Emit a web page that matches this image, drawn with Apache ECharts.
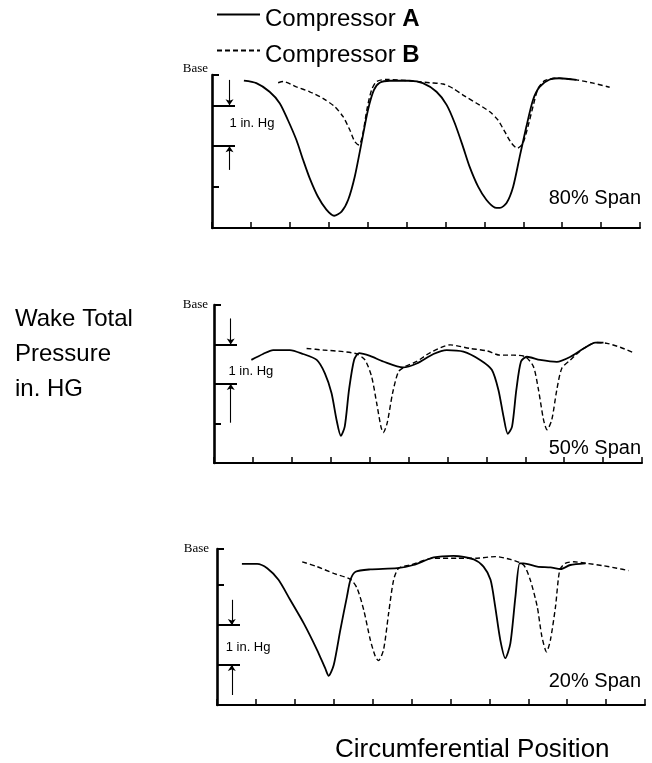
<!DOCTYPE html>
<html>
<head>
<meta charset="utf-8">
<script src="https://cdn.jsdelivr.net/npm/echarts@6/dist/echarts.min.js"></script>
<style>
html, body { margin: 0; padding: 0; background: #fff; }
#chart { width: 652px; height: 763px; }
</style>
</head>
<body>
<div id="chart"></div>
<script>
// Wake total pressure traces, circumferential position (blade pitches) vs. pressure (in. Hg above the axis floor)

// 80% span
const a80x = [0.82,1.14,1.48,1.74,1.95,2.17,2.34,2.51,2.72,2.94,3.14,3.33,3.50,3.67,3.84,4.01,4.16,4.31,4.57,5.08,5.42,5.77,6.03,6.24,6.45,6.62,6.84,7.05,7.27,7.40,7.57,7.74,7.91,8.08,8.25,8.42,8.68,8.94,9.37];
const a80y = [3.60,3.54,3.33,3.05,2.64,2.15,1.67,1.22,0.77,0.45,0.30,0.40,0.69,1.26,2.07,2.89,3.37,3.55,3.60,3.60,3.54,3.33,3.01,2.56,1.99,1.50,1.01,0.69,0.50,0.49,0.61,1.01,1.75,2.48,3.13,3.45,3.63,3.66,3.62];
const b80x = [1.70,1.83,2.17,2.51,2.85,3.15,3.37,3.54,3.67,3.78,3.88,3.98,4.10,4.23,4.48,5.08,5.60,5.94,6.20,6.45,6.80,7.14,7.35,7.52,7.70,7.85,7.99,8.12,8.25,8.38,8.55,8.85,9.37,9.80,10.22];
const b80y = [3.55,3.58,3.45,3.33,3.17,2.97,2.72,2.40,2.11,2.03,2.32,2.89,3.37,3.58,3.63,3.60,3.55,3.52,3.41,3.25,3.05,2.84,2.64,2.36,2.07,1.95,2.07,2.48,2.97,3.41,3.60,3.66,3.62,3.54,3.44];

// 50% span
const a50x = [0.96,1.26,1.52,1.95,2.29,2.64,2.85,3.02,3.15,3.26,3.36,3.47,3.60,3.73,4.01,4.35,4.86,5.21,5.64,5.98,6.41,6.84,7.14,7.31,7.44,7.55,7.66,7.77,7.89,8.04,8.38,8.81,9.16,9.50,9.80,10.01];
const a50y = [2.61,2.76,2.86,2.86,2.76,2.61,2.27,1.77,1.09,0.69,0.92,1.85,2.61,2.78,2.71,2.57,2.42,2.52,2.76,2.86,2.82,2.61,2.36,1.85,1.18,0.74,0.92,1.85,2.57,2.69,2.61,2.56,2.69,2.90,3.05,3.05];
const b50x = [2.38,2.81,3.32,3.67,3.88,4.05,4.18,4.29,4.35,4.45,4.59,4.74,4.91,5.21,5.55,6.07,6.58,7.01,7.35,7.70,8.00,8.21,8.34,8.47,8.56,8.68,8.81,8.94,9.16,9.50,9.84,10.10,10.44,10.79];
const b50y = [2.90,2.86,2.82,2.76,2.61,2.19,1.52,0.92,0.77,1.01,1.77,2.31,2.44,2.57,2.79,2.99,2.90,2.84,2.73,2.73,2.69,2.44,1.85,1.09,0.84,1.09,1.85,2.40,2.61,2.90,3.05,3.03,2.93,2.79];

// 20% span
const a20x = [0.64,1.03,1.29,1.58,1.88,2.23,2.57,2.78,2.87,3.00,3.17,3.34,3.43,3.56,3.94,4.63,5.05,5.57,6.08,6.60,6.85,7.03,7.15,7.28,7.41,7.54,7.67,7.78,7.88,8.23,8.57,8.83,9.08,9.47];
const a20y = [3.53,3.53,3.42,3.13,2.63,2.04,1.38,0.92,0.73,1.00,1.88,2.71,3.13,3.33,3.39,3.42,3.50,3.69,3.73,3.64,3.46,3.13,2.46,1.63,1.17,1.54,2.71,3.54,3.54,3.46,3.44,3.40,3.50,3.54];
const b20x = [2.19,2.57,3.00,3.43,3.60,3.77,3.94,4.07,4.15,4.28,4.41,4.54,4.67,4.97,5.57,6.17,6.68,7.15,7.54,7.88,8.05,8.23,8.35,8.47,8.57,8.70,8.81,8.95,9.17,9.51,9.94,10.28,10.58];
const b20y = [3.58,3.46,3.29,3.14,2.92,2.38,1.63,1.21,1.11,1.38,2.29,3.13,3.42,3.50,3.67,3.67,3.67,3.71,3.64,3.50,3.13,2.46,1.71,1.33,1.63,2.46,3.38,3.54,3.58,3.54,3.48,3.42,3.36];

// Axis values
const spanLabels = ['80% Span', '50% Span', '20% Span'];
const baseLevels = [3.74, 4.0, 3.9];        // "Base" reference level per panel
const bracketTicks = [[2, 3], [2, 3], [1, 2]]; // 1 in. Hg bracket
const plainTicks = [[1], [1], [3]];
const xMax = 11;
const seriesNames = ['Compressor A', 'Compressor B'];

// Layout
const grids = [
  { left: 212, top: 75, width: 428, height: 153 },
  { left: 214, top: 305, width: 428, height: 158 },
  { left: 217, top: 549, width: 428, height: 156 }
];
const baseLabelLayout = [
  { align: 'bottom', margin: 4 },
  { align: 'middle', margin: 6 },
  { align: 'middle', margin: 8 }
];
const bracketLayout = [
  { x: 0.45, upFrom: 3.62, downFrom: 1.42, textX: 0.44, textY: 2.55 },
  { x: 0.43, upFrom: 3.66, downFrom: 1.02, textX: 0.36, textY: 2.32 },
  { x: 0.38, upFrom: 2.63, downFrom: 0.25, textX: 0.21, textY: 1.43 }
];
const spanLabelPos = [{ x: 641, y: 198 }, { x: 641, y: 448 }, { x: 641, y: 681 }];

const SANS = '"Liberation Sans", Arial, Helvetica, sans-serif';
const SERIF = '"Liberation Serif", "Times New Roman", serif';

const zip = (xs, ys) => xs.map((x, i) => [x, ys[i]]);
const traces = [
  [zip(a80x, a80y), zip(b80x, b80y)],
  [zip(a50x, a50y), zip(b50x, b50y)],
  [zip(a20x, a20y), zip(b20x, b20y)]
];

const xAxes = [], yAxes = [], series = [];
grids.forEach((g, i) => {
  xAxes.push({
    type: 'value', gridIndex: i, min: 0, max: xMax, interval: 1,
    axisLine: { show: true, lineStyle: { color: '#000', width: 2 } },
    axisTick: { show: true, inside: true, length: 6, lineStyle: { color: '#000', width: 1.5 } },
    axisLabel: { show: false },
    splitLine: { show: false }
  });
  const base = baseLevels[i];
  yAxes.push({
    type: 'value', gridIndex: i, position: 'left', min: 0, max: base,
    axisLine: { show: true, lineStyle: { color: '#000', width: 2.6 } },
    axisTick: { show: true, inside: true, length: 7, customValues: plainTicks[i].concat([base]),
      lineStyle: { color: '#000', width: 2 } },
    axisLabel: { show: true, customValues: [base], formatter: () => 'Base',
      fontFamily: SERIF, fontSize: 13, color: '#000',
      margin: baseLabelLayout[i].margin, verticalAlign: baseLabelLayout[i].align },
    splitLine: { show: false }
  });
  yAxes.push({
    type: 'value', gridIndex: i, position: 'left', offset: 0, min: 0, max: base,
    axisLine: { show: false },
    axisTick: { show: true, inside: true, length: 23, customValues: bracketTicks[i],
      lineStyle: { color: '#000', width: 2 } },
    axisLabel: { show: false },
    splitLine: { show: false }
  });

  const bl = bracketLayout[i];
  const [lo, hi] = bracketTicks[i];
  series.push({
    name: seriesNames[0], type: 'line', xAxisIndex: i, yAxisIndex: 2 * i,
    data: traces[i][0], symbol: 'none', smooth: 0.25,
    lineStyle: { color: '#000', width: 1.8, type: 'solid' },
    itemStyle: { color: '#000' },
    markLine: {
      silent: true, symbol: ['none', 'arrow'], symbolSize: 6,
      lineStyle: { type: 'solid', color: '#000', width: 1.1 },
      label: { show: false },
      data: [
        [{ coord: [bl.x, bl.upFrom] }, { coord: [bl.x, hi] }],
        [{ coord: [bl.x, bl.downFrom] }, { coord: [bl.x, lo] }]
      ]
    },
    markPoint: {
      silent: true, symbol: 'circle', symbolSize: 1,
      itemStyle: { color: 'rgba(0,0,0,0)' },
      label: { show: true, position: 'right', distance: 0, formatter: '1 in. Hg',
        color: '#000', fontSize: 13, fontFamily: SANS },
      data: [{ coord: [bl.textX, bl.textY] }]
    }
  });
  series.push({
    name: seriesNames[1], type: 'line', xAxisIndex: i, yAxisIndex: 2 * i,
    data: traces[i][1], symbol: 'none', smooth: 0.25,
    lineStyle: { color: '#000', width: 1.4, type: [5, 3] },
    itemStyle: { color: '#000' }
  });
});

const graphics = spanLabels.map((t, i) => ({
  type: 'text', x: spanLabelPos[i].x, y: spanLabelPos[i].y,
  style: { text: t, align: 'right', verticalAlign: 'middle', fill: '#000',
    font: '20px ' + SANS }
}));
graphics.push({
  type: 'text', x: 15, y: 354,
  style: { text: 'Wake Total\nPressure\nin. HG', lineHeight: 35, align: 'left',
    verticalAlign: 'middle', fill: '#000', font: '24px ' + SANS }
});
graphics.push({
  type: 'text', x: 335, y: 750,
  style: { text: 'Circumferential Position', align: 'left', verticalAlign: 'middle',
    fill: '#000', font: '26px ' + SANS }
});

const chart = echarts.init(document.getElementById('chart'), null, { renderer: 'canvas' });
chart.setOption({
  backgroundColor: '#fff',
  animation: false,
  textStyle: { fontFamily: SANS },
  legend: {
    orient: 'vertical', left: 211, top: 2,
    data: seriesNames,
    itemWidth: 43, itemHeight: 14, itemGap: 12,
    selectedMode: false,
    itemStyle: { opacity: 0 },
    formatter: name => name.replace(/ (\w)$/, ' {b|$1}'),
    textStyle: {
      fontSize: 24, color: '#000', fontFamily: SANS, padding: [9, 0, 0, 0],
      rich: { b: { fontSize: 24, fontWeight: 'bold', color: '#000', fontFamily: SANS } }
    }
  },
  grid: grids,
  xAxis: xAxes,
  yAxis: yAxes,
  series: series,
  graphic: graphics
});
</script>
</body>
</html>
